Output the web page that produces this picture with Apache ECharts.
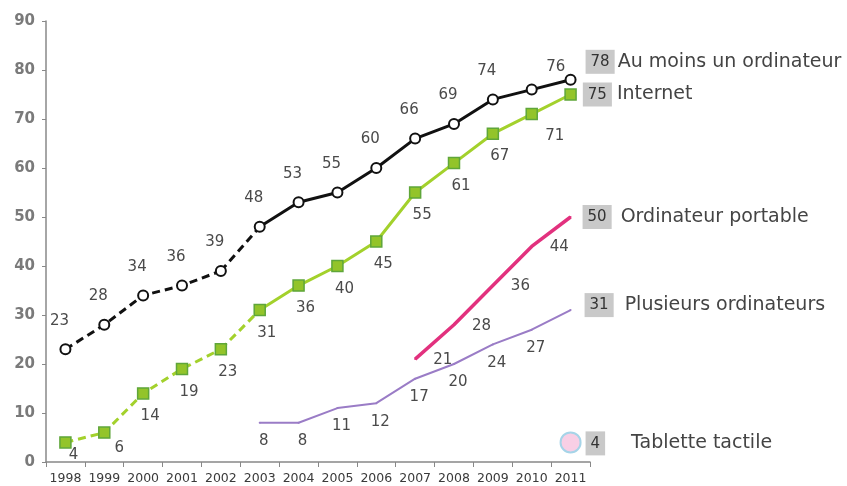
<!DOCTYPE html>
<html><head><meta charset="utf-8">
<script src="https://cdn.jsdelivr.net/npm/echarts@6/dist/echarts.min.js"></script>
<style>html,body{margin:0;padding:0;background:#fff}#c{width:847px;height:486px}</style>
</head><body><div id="c"></div>
<script>
const years = ['1998','1999','2000','2001','2002','2003','2004','2005','2006','2007','2008','2009','2010','2011'];
const auMoinsUn = [23,28,34,36,39,48,53,55,60,66,69,74,76,78];
const internet = [4,6,14,19,23,31,36,40,45,55,61,67,71,75];
const portable = [null,null,null,null,null,null,null,null,null,21,28,36,44,50];
const plusieurs = [null,null,null,null,null,8,8,11,12,17,20,24,27,31];
const tablette = [null,null,null,null,null,null,null,null,null,null,null,null,null,4];
const names = ['Au moins un ordinateur','Internet','Ordinateur portable','Plusieurs ordinateurs','Tablette tactile'];
const splitIdx = 5; // 2003: end of dashed segment

const FONT = 'DejaVu Sans';
const lblColor = '#4a4a4a';
const last = years.length - 1;

function endLabel(name, distance, offset, gap) {
  return {
    show: true, position: 'right', distance: distance, offset: offset,
    formatter: p => '{b|' + p.value + '}{n|' + name + '}',
    rich: {
      b: {backgroundColor: '#c9c9c9', color: '#333', fontSize: 15, fontFamily: FONT, padding: [5, 5, 4, 5]},
      n: {color: '#444', fontSize: 19, fontFamily: FONT, padding: [0, 0, 0, gap]}
    }
  };
}

function build(arr, opts) {
  return arr.map((v, i) => {
    if (v === null || i < opts.from || i > opts.to) return null;
    const item = {value: v};
    if (i === last && opts.endLbl) item.label = opts.endLbl;
    else if (opts.labelFor) {
      const l = opts.labelFor(i);
      if (l) item.label = l; else item.label = {show: false};
    }
    return item;
  });
}

const baseLbl = {fontSize: 15, fontFamily: FONT, color: lblColor};

const blackLbl = i => {
  if (i === 12) return Object.assign({show: true, position: 'top', offset: [24, -4]}, baseLbl);
  return Object.assign({show: true, position: 'top', offset: [-6, -10]}, baseLbl);
};
const greenLbl = i => {
  if (i === 0) return Object.assign({show: true, position: 'bottom', offset: [8, -6]}, baseLbl);
  if (i === 1) return Object.assign({show: true, position: 'bottom', offset: [15, -3]}, baseLbl);
  if (i === 12) return Object.assign({show: true, position: 'bottom', offset: [23, 3]}, baseLbl);
  return Object.assign({show: true, position: 'bottom', offset: [7, 4]}, baseLbl);
};
const pinkLbl = i => Object.assign({show: true, position: 'right', distance: 17, offset: [0, 1]}, baseLbl);
const purpleLbl = i => Object.assign({show: true, position: 'bottom', offset: [4, 5]}, baseLbl);

const blackStyle = {color: '#111', width: 3};
const greenStyle = {color: '#a3d12c', width: 3};
const blackItem = {color: '#fff', borderColor: '#111', borderWidth: 2};
const greenItem = {color: '#93c42a', borderColor: '#5fa63a', borderWidth: 1.5};

const option = {
  animation: false,
  grid: {left: 46, right: 257, top: 21, bottom: 24},
  xAxis: {
    type: 'category', data: years, boundaryGap: true,
    axisLine: {lineStyle: {color: '#888', width: 1.5}},
    axisTick: {show: true, length: 5, interval: 0, lineStyle: {color: '#888'}},
    axisLabel: {interval: 0, fontSize: 12.5, fontFamily: FONT, color: '#3a3a3a', margin: 10}
  },
  yAxis: {
    type: 'value', min: 0, max: 90, interval: 10,
    axisLine: {show: true, lineStyle: {color: '#888', width: 1.5}},
    axisTick: {show: true, length: 4, lineStyle: {color: '#888'}},
    splitLine: {show: false},
    axisLabel: {fontSize: 15, fontFamily: FONT, color: '#7a7a7a', fontWeight: 'bold', margin: 11}
  },
  series: [
    {
      name: names[0] + ' (avant 2003)', type: 'line', z: 5,
      data: build(auMoinsUn, {from: 0, to: splitIdx - 1, labelFor: blackLbl}),
      symbol: 'circle', symbolSize: 10, itemStyle: blackItem,
      lineStyle: Object.assign({type: [8, 5]}, blackStyle)
    },
    {
      name: names[0] + ' (pont)', type: 'line', z: 4,
      data: build(auMoinsUn, {from: splitIdx - 1, to: splitIdx, labelFor: () => null}),
      symbol: 'none', lineStyle: Object.assign({type: [8, 5]}, blackStyle)
    },
    {
      name: names[0], type: 'line', z: 5,
      data: build(auMoinsUn, {from: splitIdx, to: last, labelFor: blackLbl, endLbl: endLabel(names[0], 9, [0, -18], 3)}),
      symbol: 'circle', symbolSize: 10, itemStyle: blackItem,
      lineStyle: blackStyle
    },
    {
      name: names[1] + ' (avant 2003)', type: 'line', z: 5,
      data: build(internet, {from: 0, to: splitIdx - 1, labelFor: greenLbl}),
      symbol: 'rect', symbolSize: 11, itemStyle: greenItem,
      lineStyle: Object.assign({type: [8, 5]}, greenStyle)
    },
    {
      name: names[1] + ' (pont)', type: 'line', z: 4,
      data: build(internet, {from: splitIdx - 1, to: splitIdx, labelFor: () => null}),
      symbol: 'none', lineStyle: Object.assign({type: [8, 5]}, greenStyle)
    },
    {
      name: names[1], type: 'line', z: 5,
      data: build(internet, {from: splitIdx, to: last, labelFor: greenLbl, endLbl: endLabel(names[1], 6, [0, 0], 5)}),
      symbol: 'rect', symbolSize: 11, itemStyle: greenItem,
      lineStyle: greenStyle
    },
    {
      name: names[2], type: 'line', z: 3,
      data: build(portable, {from: 0, to: last, labelFor: pinkLbl, endLbl: endLabel(names[2], 11, [0, 0], 9)}),
      symbol: 'circle', symbolSize: 2, itemStyle: {color: '#e2317e'},
      lineStyle: {color: '#e2317e', width: 3.5}
    },
    {
      name: names[3], type: 'line', z: 3,
      data: build(plusieurs, {from: 0, to: last, labelFor: purpleLbl, endLbl: endLabel(names[3], 13, [0, -5], 11)}),
      symbol: 'circle', symbolSize: 2, itemStyle: {color: '#9a7cc6'},
      lineStyle: {color: '#9a7cc6', width: 2}
    },
    {
      name: names[4], type: 'line', z: 6,
      data: build(tablette, {from: 0, to: last, endLbl: endLabel(names[4], 4, [0, 1], 26)}),
      symbol: 'circle', symbolSize: 20,
      itemStyle: {color: '#f8cfe5', borderColor: '#a6d4e8', borderWidth: 2},
      lineStyle: {width: 0}
    }
  ]
};
echarts.init(document.getElementById('c')).setOption(option);
</script>
</body></html>
